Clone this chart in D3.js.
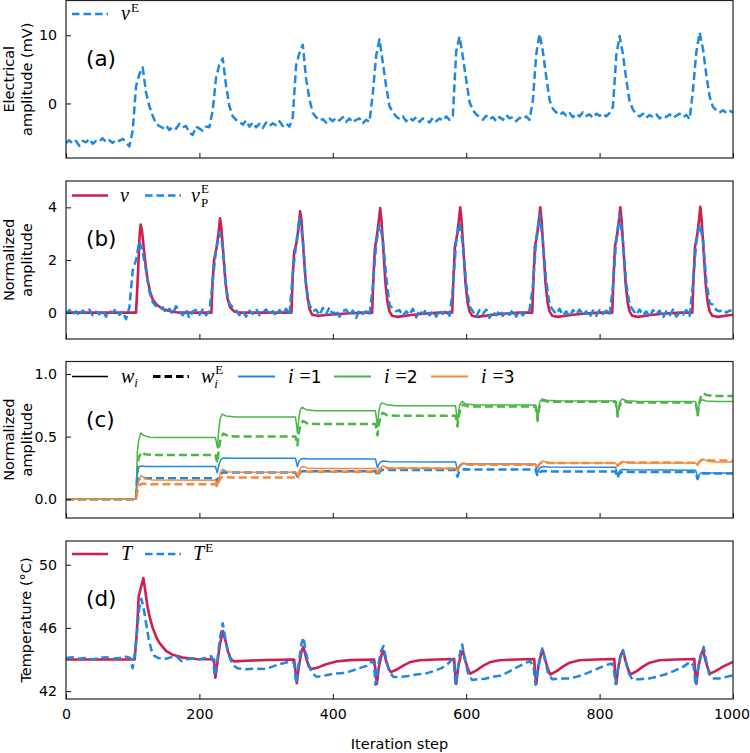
<!DOCTYPE html>
<html><head><meta charset="utf-8">
<script src="https://cdn.jsdelivr.net/npm/d3@7"></script>
<style>
body{margin:0;background:#fff;}
svg{display:block;}
</style></head>
<body><svg id="c" width="750" height="753" font-family="DejaVu Sans, sans-serif"></svg>
<script>
// ---------------- DATA ----------------
const xTicks = [0, 200, 400, 600, 800, 1000];
const gridSteps = d3.range(0, 1001, 5);   // sampling steps of the noisy recorded signals

// (a) electrical amplitude v^E (mV), one value per grid step
const vE = [
 -5.8,-5.4,-5.9,-5.5,-6.2,-5.5,-5.7,-5.2,-5.9,-5.5,
 -5.6,-5.1,-5.7,-5.4,-5.8,-5.3,-5.5,-5.2,-5.7,-6.3,
 -4.0,2.5,4.3,5.3,1.6,-0.4,-1.8,-3.0,-3.3,-3.6,
 -3.2,-3.9,-3.4,-3.7,-3.0,-3.5,-3.3,-4.3,-4.6,-3.4,
 -3.7,-4.0,-3.4,-3.5,-1.0,3.8,5.7,6.6,2.6,-0.4,
 -1.9,-2.4,-2.7,-3.1,-2.5,-3.4,-2.8,-3.5,-3.0,-3.6,
 -2.8,-3.3,-2.9,-3.2,-2.6,-3.3,-2.9,-3.4,-2.0,5.6,
 7.4,8.6,3.6,0.6,-1.4,-2.0,-2.5,-2.3,-2.8,-2.2,
 -2.6,-2.1,-2.5,-2.0,-2.7,-2.2,-2.8,-2.4,-2.2,-2.9,
 -2.4,-2.7,1.5,7.0,9.4,6.0,2.5,-0.4,-1.3,-1.9,
 -2.3,-1.9,-2.6,-2.1,-2.5,-2.0,-2.7,-2.2,-2.4,-2.8,
 -2.1,-2.6,-2.2,-2.5,-1.9,-2.4,-1.8,7.6,9.8,6.8,
 3.5,0.2,-1.0,-1.6,-2.0,-2.4,-1.8,-2.3,-2.0,-2.6,
 -2.0,-2.4,-1.7,-2.2,-2.0,-2.6,-2.1,-2.3,-1.9,-2.4,
 0.5,7.2,10.2,7.6,3.9,0.5,-0.8,-1.3,-1.7,-1.3,
 -1.8,-1.4,-2.0,-1.5,-1.9,-1.3,-1.8,-1.6,-2.1,-1.5,
 -1.8,-1.5,-1.9,-1.4,-0.5,7.0,9.9,7.2,3.5,0.3,
 -0.9,-1.6,-1.9,-1.5,-2.1,-1.7,-2.0,-1.6,-2.2,-1.8,
 -2.0,-1.6,-2.1,-1.8,-1.5,-2.0,-1.7,-2.3,2.0,7.5,
 10.4,8.0,4.2,1.0,-0.5,-1.0,-1.3,-1.0,-1.4,-1.1,
 -1.3
];

// (b) normalized recorded signal v_P^E, one value per grid step
const vPE = [
 -0.05,0.1,-0.08,0.05,-0.12,0.08,-0.02,0.12,-0.1,0.04,
 -0.06,0.1,-0.15,0.06,0.0,0.14,-0.08,0.05,-0.25,0.2,
 1.6,2.0,2.7,2.3,1.6,0.8,0.4,0.25,0.15,0.2,
 0.0,0.15,-0.05,0.25,0.05,-0.1,0.12,-0.2,0.05,0.1,
 -0.08,0.12,-0.1,0.05,1.2,2.4,3.05,2.5,0.9,0.35,
 0.2,0.1,-0.1,0.05,-0.15,0.08,-0.05,0.15,-0.1,0.0,
 0.12,-0.08,0.06,-0.12,0.1,-0.05,0.15,-0.1,1.5,2.6,
 3.6,2.8,1.0,0.3,0.05,0.12,-0.1,0.18,-0.05,0.2,
 -0.08,0.1,-0.15,0.05,0.12,-0.1,0.08,-0.2,0.1,-0.05,
 0.05,-0.1,1.0,2.6,3.35,2.8,1.4,0.3,0.15,0.05,
 0.1,-0.12,0.05,-0.08,0.15,-0.18,0.1,-0.05,0.12,-0.1,
 0.05,-0.15,0.1,-0.05,0.08,-0.12,0.9,2.7,3.4,2.6,
 1.1,0.25,0.05,-0.15,0.1,-0.05,0.12,-0.2,0.05,-0.1,
 0.1,-0.12,0.05,-0.08,0.12,-0.15,0.05,-0.1,0.08,0.1,
 1.0,2.8,3.75,2.7,1.2,0.3,0.1,-0.05,0.15,-0.1,
 0.05,-0.15,0.1,-0.05,0.12,-0.1,0.05,-0.18,0.08,-0.12,
 0.1,-0.05,0.08,-0.1,1.0,2.8,3.7,2.7,1.1,0.3,
 0.1,-0.08,0.12,-0.1,0.05,-0.15,0.1,-0.05,0.08,-0.2,
 0.05,-0.1,0.12,-0.15,0.0,-0.08,0.1,-0.12,1.1,2.7,
 3.35,2.8,1.2,0.35,0.3,0.1,0.05,0.12,0.0,0.08,
 0.05
];

// (b) model output v  [step, value]
const vModel = [
 [0,0],[105,0],[108,1.5],[110,2.8],[112,3.35],[114,3.1],[116,2.6],[119,1.9],[122,1.3],[126,0.8],[130,0.5],[136,0.3],[145,0.14],[155,0.06],[170,0],
 [218,0],[220,1.3],[222,2.0],[226,2.5],[229,3.1],[231,3.58],[233,3.2],[236,2.2],[239,1.2],[242,0.55],[246,0.2],[252,0.05],[262,0],
 [338,0],[340,1.4],[342,2.3],[346,2.7],[349,3.3],[351,3.85],[353,3.5],[356,2.4],[359,1.3],[362,0.6],[365,0.15],[369,-0.08],[378,-0.12],[395,-0.08],[420,-0.03],[445,0],
 [459,0],[461,1.4],[463,2.4],[466,2.9],[469,3.5],[471,3.97],[473,3.5],[476,2.3],[479,1.1],[482,0.4],[485,0.05],[489,-0.12],[497,-0.16],[514,-0.1],[534,-0.04],[560,0],
 [579,0],[581,1.4],[583,2.5],[586,2.9],[589,3.5],[591,4.0],[593,3.5],[596,2.3],[599,1.1],[602,0.4],[605,0.05],[609,-0.12],[617,-0.16],[634,-0.1],[654,-0.04],[680,0],
 [699,0],[701,1.4],[703,2.5],[706,2.9],[709,3.5],[711,4.0],[713,3.5],[716,2.3],[719,1.1],[722,0.4],[725,0.05],[729,-0.12],[737,-0.16],[754,-0.1],[774,-0.04],[800,0],
 [819,0],[821,1.4],[823,2.5],[826,2.9],[829,3.5],[831,4.0],[833,3.5],[836,2.3],[839,1.1],[842,0.4],[845,0.05],[849,-0.12],[857,-0.16],[874,-0.1],[894,-0.04],[920,0],
 [939,0],[941,1.4],[943,2.5],[946,2.9],[949,3.5],[951,4.02],[953,3.5],[956,2.3],[959,1.1],[962,0.4],[965,0.05],[969,-0.12],[977,-0.16],[994,-0.1],[1000,-0.08]
];

// (c) weights w_i (solid) and w_i^E (dashed)  [step, value]
const w1 = [
 [0,0],[105,0],[107,0.2],[109,0.255],[112,0.265],[120,0.261],[224,0.261],
 [226,0.225],[227,0.21],[229,0.27],[232,0.315],[236,0.33],[245,0.328],[344,0.328],
 [346,0.28],[347,0.26],[349,0.3],[352,0.32],[356,0.325],[365,0.322],[464,0.322],
 [466,0.27],[467,0.25],[469,0.28],[472,0.3],[476,0.305],[485,0.3],[584,0.298],
 [586,0.25],[587,0.23],[589,0.26],[592,0.28],[596,0.285],[605,0.282],[704,0.28],
 [706,0.23],[707,0.21],[709,0.24],[712,0.258],[716,0.262],[725,0.258],[824,0.256],
 [826,0.21],[827,0.19],[829,0.22],[832,0.235],[836,0.238],[845,0.235],[944,0.232],
 [946,0.19],[947,0.17],[949,0.195],[952,0.21],[956,0.213],[965,0.21],[1000,0.21]
];
const w1E = [
 [0,0],[105,0],[107,0.12],[109,0.16],[113,0.172],[120,0.168],[224,0.168],
 [226,0.15],[227,0.14],[229,0.18],[232,0.205],[236,0.215],[245,0.213],[344,0.213],
 [346,0.19],[347,0.18],[349,0.205],[352,0.22],[356,0.225],[365,0.223],[464,0.223],
 [466,0.2],[467,0.185],[469,0.21],[472,0.23],[476,0.236],[485,0.234],[584,0.234],
 [586,0.2],[587,0.18],[589,0.215],[592,0.235],[596,0.24],[605,0.238],[704,0.238],
 [706,0.2],[707,0.185],[709,0.21],[712,0.222],[716,0.225],[725,0.222],[824,0.221],
 [826,0.185],[827,0.17],[829,0.2],[832,0.215],[836,0.22],[845,0.218],[944,0.218],
 [946,0.175],[947,0.16],[949,0.19],[952,0.203],[956,0.207],[965,0.205],[1000,0.205]
];
const w2 = [
 [0,0],[105,0],[107,0.38],[109,0.47],[112,0.53],[116,0.51],[125,0.495],[140,0.493],[224,0.493],
 [226,0.44],[227,0.41],[229,0.55],[231,0.64],[234,0.68],[240,0.665],[255,0.657],[344,0.656],
 [346,0.58],[347,0.53],[349,0.64],[351,0.71],[354,0.735],[360,0.715],[375,0.707],[464,0.706],
 [466,0.62],[467,0.58],[469,0.7],[471,0.75],[474,0.77],[480,0.755],[495,0.747],[584,0.746],
 [586,0.66],[587,0.60],[589,0.72],[591,0.765],[594,0.78],[600,0.76],[615,0.753],[704,0.752],
 [706,0.67],[707,0.62],[709,0.74],[711,0.785],[714,0.8],[720,0.79],[735,0.786],[824,0.785],
 [826,0.7],[827,0.66],[829,0.75],[831,0.785],[834,0.8],[840,0.787],[855,0.782],[944,0.78],
 [946,0.7],[947,0.67],[949,0.75],[951,0.78],[954,0.795],[960,0.785],[975,0.78],[1000,0.78]
];
const w2E = [
 [0,0],[105,0],[107,0.25],[109,0.33],[113,0.376],[118,0.36],[130,0.354],[224,0.354],
 [226,0.31],[227,0.29],[229,0.4],[232,0.49],[236,0.525],[243,0.505],[255,0.5],[344,0.5],
 [346,0.46],[347,0.43],[349,0.53],[352,0.6],[355,0.625],[362,0.605],[375,0.6],[464,0.6],
 [466,0.55],[467,0.51],[469,0.6],[472,0.67],[475,0.69],[482,0.67],[495,0.666],[584,0.666],
 [586,0.62],[587,0.58],[589,0.67],[592,0.735],[595,0.755],[602,0.742],[615,0.74],[704,0.74],
 [706,0.68],[707,0.63],[709,0.72],[712,0.77],[715,0.79],[722,0.78],[735,0.778],[824,0.778],
 [826,0.71],[827,0.66],[829,0.73],[832,0.77],[835,0.785],[842,0.775],[855,0.772],[944,0.772],
 [946,0.71],[947,0.67],[949,0.76],[952,0.82],[955,0.845],[962,0.83],[975,0.825],[1000,0.825]
];
const w3 = [
 [0,0],[105,0],[107,0.1],[110,0.17],[113,0.19],[118,0.165],[130,0.153],[224,0.152],
 [226,0.12],[227,0.105],[229,0.16],[232,0.22],[235,0.24],[242,0.22],[255,0.215],[344,0.215],
 [346,0.2],[347,0.19],[349,0.22],[352,0.25],[355,0.262],[362,0.25],[375,0.245],[464,0.245],
 [466,0.22],[467,0.21],[469,0.235],[472,0.255],[475,0.265],[482,0.252],[495,0.248],[584,0.248],
 [586,0.235],[587,0.23],[589,0.26],[592,0.28],[595,0.29],[602,0.282],[615,0.28],[704,0.28],
 [706,0.26],[707,0.255],[709,0.275],[712,0.295],[715,0.305],[722,0.293],[735,0.29],[824,0.29],
 [826,0.27],[827,0.265],[829,0.28],[832,0.295],[835,0.302],[842,0.292],[855,0.29],[944,0.29],
 [946,0.275],[947,0.27],[949,0.29],[952,0.31],[955,0.32],[962,0.303],[975,0.298],[1000,0.298]
];
const w3E = [
 [0,0],[105,0],[107,0.07],[110,0.11],[114,0.125],[125,0.12],[224,0.12],
 [226,0.105],[227,0.1],[229,0.14],[232,0.17],[236,0.18],[245,0.174],[344,0.173],
 [346,0.165],[347,0.16],[349,0.19],[352,0.215],[356,0.225],[365,0.22],[464,0.22],
 [466,0.21],[467,0.205],[469,0.23],[472,0.245],[476,0.252],[485,0.247],[584,0.246],
 [586,0.235],[587,0.23],[589,0.255],[592,0.272],[596,0.28],[605,0.276],[704,0.275],
 [706,0.26],[707,0.255],[709,0.275],[712,0.29],[716,0.295],[725,0.29],[824,0.29],
 [826,0.27],[827,0.265],[829,0.28],[832,0.292],[836,0.298],[845,0.293],[944,0.292],
 [946,0.28],[947,0.275],[949,0.295],[952,0.312],[956,0.318],[965,0.31],[1000,0.308]
];

// (d) temperature T (model) and T^E (recorded)  [step, °C]
const TModel = [
 [0,44.0],[103,44.0],[106,45.6],[109,48.0],[112,48.5],[116,49.15],[119,48.3],[122,47.4],[126,46.6],[130,46.0],[135,45.45],[140,45.05],[150,44.55],[160,44.3],[175,44.12],[195,44.03],[222,44.0],
 [224,42.85],[227,43.8],[231,45.0],[235,45.8],[239,45.2],[243,44.5],[247,44.05],[252,43.88],[270,43.92],[300,43.97],[342,44.0],
 [344,43.3],[346,42.5],[349,43.5],[353,44.5],[356,44.8],[360,44.1],[364,43.55],[368,43.4],[378,43.5],[390,43.7],[405,43.87],[425,43.96],[462,44.0],
 [464,43.3],[466,42.45],[469,43.5],[473,44.3],[476,44.55],[480,43.9],[484,43.4],[487,43.2],[495,43.35],[505,43.6],[515,43.82],[530,43.95],[555,44.0],[582,44.03],
 [583,43.3],[585,42.45],[588,43.5],[592,44.3],[595,44.55],[599,43.9],[603,43.35],[606,43.1],[615,43.3],[625,43.6],[635,43.82],[650,43.95],[675,44.0],[702,44.03],
 [703,43.3],[705,42.45],[708,43.5],[712,44.3],[715,44.55],[719,43.9],[723,43.35],[726,43.05],[735,43.25],[745,43.55],[755,43.8],[770,43.95],[795,44.0],[822,44.03],
 [823,43.3],[825,42.45],[828,43.5],[832,44.3],[835,44.55],[839,43.9],[843,43.35],[846,43.05],[855,43.25],[865,43.55],[875,43.8],[890,43.95],[915,44.0],[942,44.03],
 [943,43.3],[945,42.45],[948,43.5],[952,44.3],[955,44.6],[959,43.9],[963,43.35],[966,43.1],[975,43.3],[985,43.55],[1000,43.85]
];
const TRec = [
 [0,44.1],[10,44.15],[20,44.05],[30,44.12],[40,44.0],[50,44.1],[60,44.15],[70,44.05],[80,44.1],[90,44.18],[96,44.1],[100,43.45],[103,44.3],[107,46.0],[110,47.3],[113,47.85],[117,47.1],[120,46.3],[124,45.3],[128,44.6],[132,44.25],[138,44.1],[150,44.05],[158,44.15],[166,44.2],[173,43.9],[180,44.0],[190,44.08],[200,44.0],[210,44.12],[218,44.2],[221,43.8],
 [223,42.95],[227,44.0],[231,45.4],[235,46.3],[239,45.3],[243,44.4],[247,43.95],[252,43.6],[257,43.45],[270,43.38],[285,43.42],[300,43.4],[316,43.65],[336,43.88],[342,43.8],
 [345,42.5],[349,43.8],[353,45.0],[356,45.4],[360,44.4],[365,43.5],[370,43.1],[376,42.9],[390,43.0],[401,43.1],[415,43.15],[426,43.25],[440,43.45],[451,43.6],[459,43.9],[462,43.7],
 [464,42.4],[468,43.6],[472,44.5],[476,44.85],[480,44.0],[485,43.2],[491,42.9],[500,42.9],[513,42.95],[525,43.05],[538,43.1],[550,43.25],[563,43.45],[572,43.7],[579,44.0],[582,43.6],
 [584,42.4],[588,43.6],[591,44.5],[594,44.95],[598,44.0],[603,43.1],[609,42.7],[618,42.75],[628,42.78],[640,42.9],[653,43.0],[665,43.25],[678,43.55],[690,43.8],[696,43.9],[701,43.5],
 [704,42.4],[708,43.5],[711,44.3],[714,44.7],[718,44.0],[723,43.1],[729,42.75],[740,42.8],[753,42.8],[765,42.9],[773,43.0],[785,43.2],[799,43.45],[810,43.65],[818,43.75],[821,43.5],
 [824,42.45],[828,43.5],[831,44.2],[835,44.6],[839,43.9],[844,43.1],[849,42.75],[860,42.75],[874,42.8],[885,42.9],[898,43.05],[910,43.25],[924,43.5],[936,43.85],[941,43.6],
 [944,42.35],[948,43.5],[952,44.3],[956,44.8],[960,43.9],[964,43.1],[969,42.8],[980,42.8],[990,42.9],[1000,43.0]
];

// ---------------- STYLE / LAYOUT ----------------
const RED = "#d01e50", BLUE = "#1e88e5", GREEN = "#4bb748", ORANGE = "#f5893c";
const DASH = "8,4";
const X0 = 66, X1 = 733;
const panels = [
  {id:"a", top:0.5, bottom:158, dom:[-8,15.1], ticks:[0,10], fmt:d=>d, ylab:["Electrical","amplitude (mV)"]},
  {id:"b", top:181, bottom:339, dom:[-1,5], ticks:[0,2,4], fmt:d=>d, ylab:["Normalized","amplitude"]},
  {id:"c", top:361.5, bottom:518, dom:[-0.15,1.1], ticks:[0,0.5,1.0], fmt:d3.format(".1f"), ylab:["Normalized","amplitude"]},
  {id:"d", top:541, bottom:699, dom:[41.5,51.5], ticks:[42,46,50], fmt:d=>d, ylab:["Temperature (°C)"]}
];

const svg = d3.select("#c");
const x = d3.scaleLinear().domain([0,1000]).range([X0,X1]);
const defs = svg.append("defs");

panels.forEach(p=>{
  p.y = d3.scaleLinear().domain(p.dom).range([p.bottom,p.top]);
  defs.append("clipPath").attr("id","clip-"+p.id)
    .append("rect").attr("x",X0).attr("y",p.top).attr("width",X1-X0).attr("height",p.bottom-p.top);
  p.g = svg.append("g");
  p.plot = p.g.append("g").attr("clip-path","url(#clip-"+p.id+")");
});

function drawLine(p, data, color, width, dashed){
  const line = d3.line().x(d=>x(d[0])).y(d=>p.y(d[1]));
  p.plot.append("path").datum(data).attr("d",line)
    .attr("fill","none").attr("stroke",color).attr("stroke-width",width)
    .attr("stroke-linejoin","round")
    .attr("stroke-dasharray",dashed?DASH:null);
}
const pairs = arr => gridSteps.map((s,i)=>[s,arr[i]]);

// (a)
drawLine(panels[0], pairs(vE), BLUE, 2.5, true);
// (b)
drawLine(panels[1], vModel, RED, 2.6, false);
drawLine(panels[1], pairs(vPE), BLUE, 2.5, true);
// (c)
drawLine(panels[2], w2E, GREEN, 2.5, true);
drawLine(panels[2], w1E, BLUE, 2.5, true);
drawLine(panels[2], w3E, ORANGE, 2.5, true);
drawLine(panels[2], w2, GREEN, 1.5, false);
drawLine(panels[2], w1, BLUE, 1.5, false);
drawLine(panels[2], w3, ORANGE, 1.5, false);
// (d)
drawLine(panels[3], TModel, RED, 2.6, false);
drawLine(panels[3], TRec, BLUE, 2.5, true);

// axes, frames, labels
panels.forEach((p,i)=>{
  const g = p.g;
  const xa = d3.axisBottom(x).tickValues(xTicks).tickSizeInner(-5).tickSizeOuter(0).tickPadding(10)
     .tickFormat(i===3? d=>d : ()=> "");
  const xg = g.append("g").attr("transform",`translate(0,${p.bottom})`).call(xa);
  const ya = d3.axisLeft(p.y).tickValues(p.ticks).tickSizeInner(-5).tickSizeOuter(0).tickPadding(9).tickFormat(p.fmt);
  g.append("g").attr("transform",`translate(${X0},0)`).call(ya);
  g.selectAll(".domain").remove();
  g.selectAll(".tick line").attr("stroke","#111").attr("stroke-width",1);
  g.selectAll(".tick text").attr("font-size",14.2).attr("font-family","DejaVu Sans").attr("fill","#000");
  if(i===3) xg.selectAll(".tick text").filter(d=>d===1000).attr("dx",-1.5);
  g.append("rect").attr("x",X0).attr("y",p.top).attr("width",X1-X0).attr("height",p.bottom-p.top)
    .attr("fill","none").attr("stroke","#222").attr("stroke-width",1.2);
  // panel label
  g.append("text").attr("x",86).attr("y",p.top+65).attr("font-size",21.5).text(`(${p.id})`);
  // y label
  const cy = (p.top+p.bottom)/2;
  if(p.ylab.length===2){
    [9,27].forEach((lx,k)=>{
      g.append("text").attr("transform",`translate(${lx+5},${cy}) rotate(-90)`)
       .attr("text-anchor","middle").attr("font-size",14.5).text(p.ylab[k]);
    });
  } else {
    g.append("text").attr("transform",`translate(${31},${cy}) rotate(-90)`)
       .attr("text-anchor","middle").attr("font-size",14.5).text(p.ylab[0]);
  }
});
svg.append("text").attr("x",(X0+X1)/2).attr("y",749).attr("text-anchor","middle")
  .attr("font-size",14.5).text("Iteration step");

// ---------------- LEGENDS ----------------
const SERIF = "Liberation Serif, DejaVu Serif, serif";
function legLine(y, x0, x1, color, w, dashed){
  svg.append("line").attr("x1",x0).attr("x2",x1).attr("y1",y).attr("y2",y)
    .attr("stroke",color).attr("stroke-width",w).attr("stroke-dasharray",dashed?"7.5,4":null);
}
function mathText(xp, y, base, sup, sub){
  const t = svg.append("text").attr("x",xp).attr("y",y).attr("font-family",SERIF)
    .attr("font-style","italic").attr("font-size",20).text(base);
  const w = t.node().getComputedTextLength();
  if(sup) svg.append("text").attr("x",xp+w+1).attr("y",y-8.5).attr("font-family",SERIF)
    .attr("font-size",13).text(sup);
  if(sub) svg.append("text").attr("x",xp+w+(sub==="i"?0:1)).attr("y",y+(sup?5:4.5)).attr("font-family",SERIF)
    .attr("font-size",13).attr("font-style",sub==="i"?"italic":null).text(sub);
}
function iLabel(xp, y, n){
  const t = svg.append("text").attr("x",xp).attr("y",y).attr("font-size",20);
  t.append("tspan").attr("font-family",SERIF).attr("font-style","italic").text("i");
  t.append("tspan").attr("font-family",SERIF).attr("dx",6).text("=");
  t.append("tspan").attr("font-family","DejaVu Sans").attr("font-size",17).text(n);
}
// (a)
legLine(14, 72, 108, BLUE, 2.5, true);
mathText(121, 20, "v", "E");
// (b)
legLine(195.5, 72, 108, RED, 2.6, false);
mathText(120, 201.5, "v");
legLine(195.5, 145, 181, BLUE, 2.5, true);
mathText(191, 201.5, "v", "E", "P");
// (c)
const ly = 376.5, lty = 382.5;
legLine(ly, 72, 108, "#000", 1.5, false);
mathText(121, lty, "w", null, "i");
legLine(ly, 153, 189, "#000", 3, true);
mathText(201, lty, "w", "E", "i");
legLine(ly, 238, 275, BLUE, 2.2, false);
iLabel(288, lty, "1");
legLine(ly, 334, 371, GREEN, 2.2, false);
iLabel(384, lty, "2");
legLine(ly, 431, 468, ORANGE, 2.2, false);
iLabel(481, lty, "3");
// (d)
legLine(554, 72, 108, RED, 2.6, false);
mathText(121, 560, "T");
legLine(554, 145, 181, BLUE, 2.5, true);
mathText(193, 560, "T", "E");
</script></body></html>
